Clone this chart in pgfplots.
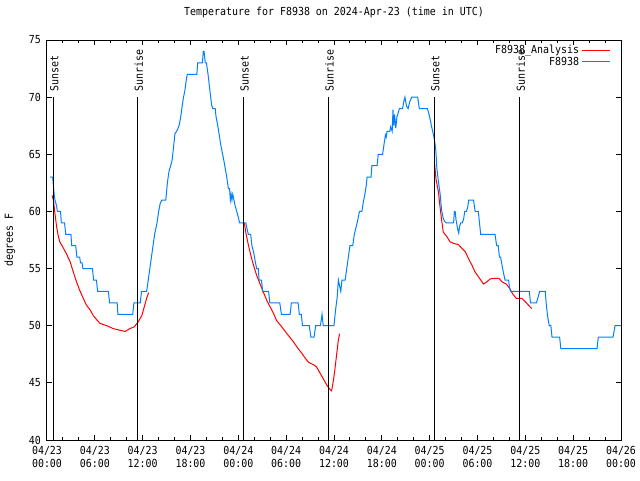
\documentclass[border=0pt]{standalone}
\usepackage{fontspec}
\setmainfont{DejaVu Sans Mono}[FakeStretch=0.9]
\usepackage{pgfplots}
\usepackage{pgfplotstable}
\pgfplotsset{compat=1.18}
\definecolor{gblue}{RGB}{0,128,255}
\definecolor{gred}{RGB}{255,0,0}
\pgfplotsset{legend image code/.code={\draw[#1] (0pt,0pt) -- (21pt,0pt);}}

\pgfplotstableread{
h t
0.38 63
0.71 63
0.8 62.3
0.9 61.5
1.0 61
1.2 60.5
1.3 60
1.7 60
1.8 59
2.2 59
2.35 58
3.0 58
3.1 57
3.6 57
3.75 56
4.1 56
4.2 55.5
4.4 55.5
4.5 55
5.7 55
5.85 54
6.2 54
6.35 53
7.7 53
7.85 52
8.8 52
8.9 51
10.75 51
10.9 52
11.7 52
11.85 53
12.5 53
12.7 54
12.9 55
13.1 56
13.3 57
13.5 58
13.8 59
14.0 60
14.2 60.7
14.4 61
14.9 61
15.1 62.5
15.3 63.5
15.55 64.1
15.7 64.5
15.85 65.5
16.05 66.8
16.25 67
16.4 67.2
16.6 67.6
16.8 68.4
16.95 69.2
17.1 69.9
17.3 70.6
17.45 71.4
17.6 72
18.8 72
18.9 73
19.5 73
19.6 74
19.7 74
19.85 73
20.0 73
20.2 72
20.45 70.5
20.65 69.3
20.8 69
21.1 69
21.2 68.3
21.4 67.6
21.6 66.7
21.8 65.8
22.0 65.1
22.2 64.4
22.4 63.6
22.6 62.75
22.75 62
22.9 62
23.0 61
23.1 61.5
23.2 61
23.3 61.5
23.45 61
23.6 60.5
23.8 60
24.0 59.5
24.15 59
24.95 59
25.05 58.6
25.25 58
25.55 58
25.7 57
25.9 56.5
26.1 55.7
26.3 55
26.5 55
26.6 54
26.9 54
27.05 53
27.8 53
27.95 52
29.2 52
29.4 51
30.5 51
30.65 52
31.5 52
31.65 51
31.9 51
32.05 50
32.9 50
33.1 49
33.5 49
33.7 50
34.3 50
34.5 51
34.65 50
36.0 50
36.2 51.4
36.4 52.5
36.55 54
36.7 53.5
36.85 53
37.0 54
37.4 54
37.6 55
37.8 56
38.0 57
38.35 57
38.55 58
38.9 59
39.2 60
39.5 60
39.7 60.9
39.9 61.6
40.05 62.3
40.15 63
40.65 63
40.75 64
41.4 64
41.55 65
42.1 65
42.3 66
42.45 66.7
42.55 66.5
42.65 67
43.0 67
43.1 67.4
43.3 67
43.4 68.9
43.5 67.5
43.6 68.5
43.75 67.3
43.9 68.3
44.0 68.5
44.2 69
44.6 69
44.75 69.6
44.9 70
45.1 69.2
45.3 69
45.5 69.6
45.75 70
46.5 70
46.7 69
47.7 69
47.85 68.7
48.05 68.1
48.25 67.4
48.45 66.8
48.6 66.25
48.75 65.5
48.85 64.5
48.9 63.8
49.1 62.6
49.3 61.6
49.5 60.1
49.7 59.4
49.9 59.1
50.1 59
51.0 59
51.1 60
51.2 60
51.3 59.3
51.5 58.5
51.65 58.1
51.75 58.7
51.9 59
52.1 59
52.25 59.3
52.4 60
52.6 60
52.75 60.3
52.9 61
53.5 61
53.7 60
54.1 60
54.4 58
56.2 58
56.4 57
56.6 57
56.75 56
56.9 56
57.15 55
57.3 54.5
57.45 54
57.9 54
58.0 53.4
58.15 53
60.5 53
60.65 52
61.4 52
61.6 52.5
61.8 53
62.5 53
62.65 51.7
62.8 50.8
63.0 50
63.2 50
63.35 49
64.3 49
64.45 48
69.0 48
69.15 49
71.0 49
71.25 50
72 50
}\bluedata

\pgfplotstableread{
h t
0.65 61.4
0.8 61
1.0 59.8
1.2 58.7
1.4 57.9
1.6 57.35
2.05 56.8
2.5 56.2
2.9 55.6
3.3 54.7
3.7 53.85
4.1 53.1
4.55 52.4
4.95 51.8
5.4 51.4
5.8 50.9
6.2 50.55
6.65 50.2
7.5 50.0
8.3 49.75
9.15 49.6
9.8 49.5
10.4 49.75
10.95 49.9
11.45 50.35
11.9 50.9
12.2 51.65
12.5 52.4
12.75 52.9
18 nan
24.75 59.0
24.95 58.1
25.25 57.1
25.55 56.2
25.9 55.3
26.3 54.4
26.7 53.7
27.1 53.0
27.55 52.25
27.95 51.7
28.4 51.1
28.8 50.45
29.45 49.9
30.1 49.3
30.9 48.6
31.1 48.4
31.5 48.0
31.95 47.6
32.4 47.15
32.8 46.8
33.4 46.6
33.8 46.4
34.25 45.85
34.7 45.3
35.1 44.8
35.4 44.5
35.7 44.3
35.9 45.1
36.1 46.1
36.35 47.6
36.55 48.75
36.7 49.3
42 nan
48.6 64.3
48.8 62.8
49.1 61.7
49.3 60.4
49.5 59.25
49.7 58.2
50.15 57.8
50.55 57.35
51.0 57.2
51.6 57.1
52.0 56.8
52.45 56.5
52.85 55.9
53.3 55.3
53.7 54.7
54.1 54.3
54.55 53.85
54.75 53.65
55.2 53.85
55.6 54.1
56.2 54.15
56.7 54.15
57.05 53.85
57.6 53.65
58.0 53.3
58.4 52.8
58.85 52.4
59.55 52.4
60.0 52.1
60.4 51.8
60.8 51.5
}\reddata

\begin{document}
\begin{tikzpicture}[x=1pt,y=1pt]
\useasboundingbox (0,0) rectangle (480,360);
\begin{axis}[
  at={(35.25pt,30pt)}, anchor=south west,
  scale only axis, width=430.5pt, height=300pt,
  xmin=0, xmax=72, ymin=40, ymax=75,
  font=\fontsize{8.3}{9.75}\selectfont,
  /pgf/number format/assume math mode=true,
  axis line style={black, line width=0.75pt},
  every tick/.style={black, line width=0.75pt},
  tick align=inside,
  major tick length=4pt, minor tick length=2.2pt,
  xtick={0,6,...,72},
  minor x tick num=2,
  xticklabels={{04/23\\00:00},{04/23\\06:00},{04/23\\12:00},{04/23\\18:00},{04/24\\00:00},{04/24\\06:00},{04/24\\12:00},{04/24\\18:00},{04/25\\00:00},{04/25\\06:00},{04/25\\12:00},{04/25\\18:00},{04/26\\00:00}},
  xticklabel style={align=center, yshift=-1pt},
  ytick={40,45,...,75},
  yticklabel style={xshift=-1pt},
  title={Temperature for F8938 on 2024-Apr-23 (time in UTC)},
  title style={at={(axis description cs:0.5,1)}, anchor=center, yshift=15pt},
  ylabel={degrees F},
  ylabel style={at={(axis description cs:-0.0645,0.5)}, anchor=center},
  unbounded coords=jump,
  legend style={at={(axis description cs:0.985,0.998)}, anchor=north east, draw=none, fill=none, row sep=-3pt, inner sep=1pt},
  legend cell align=right,
  legend plot pos=right,
]
\addplot[gred, line width=0.75pt] table[x=h,y=t] {\reddata};
\addlegendentry{F8938\_Analysis}
\addplot[gblue, line width=0.75pt] table[x=h,y=t] {\bluedata};
\addlegendentry{F8938}
\addplot[black, line width=0.75pt, forget plot] coordinates {(0.8,40) (0.8,70)};
\addplot[black, line width=0.75pt, forget plot] coordinates {(11.4,40) (11.4,70)};
\addplot[black, line width=0.75pt, forget plot] coordinates {(24.66,40) (24.66,70)};
\addplot[black, line width=0.75pt, forget plot] coordinates {(35.3,40) (35.3,70)};
\addplot[black, line width=0.75pt, forget plot] coordinates {(48.6,40) (48.6,70)};
\addplot[black, line width=0.75pt, forget plot] coordinates {(59.3,40) (59.3,70)};
\node[rotate=90, anchor=west, inner sep=0pt] at (axis cs:0.92,70.45) {Sunset};
\node[rotate=90, anchor=west, inner sep=0pt] at (axis cs:11.52,70.45) {Sunrise};
\node[rotate=90, anchor=west, inner sep=0pt] at (axis cs:24.78,70.45) {Sunset};
\node[rotate=90, anchor=west, inner sep=0pt] at (axis cs:35.42,70.45) {Sunrise};
\node[rotate=90, anchor=west, inner sep=0pt] at (axis cs:48.72,70.45) {Sunset};
\node[rotate=90, anchor=west, inner sep=0pt] at (axis cs:59.42,70.45) {Sunrise};
\end{axis}
\end{tikzpicture}
\end{document}
